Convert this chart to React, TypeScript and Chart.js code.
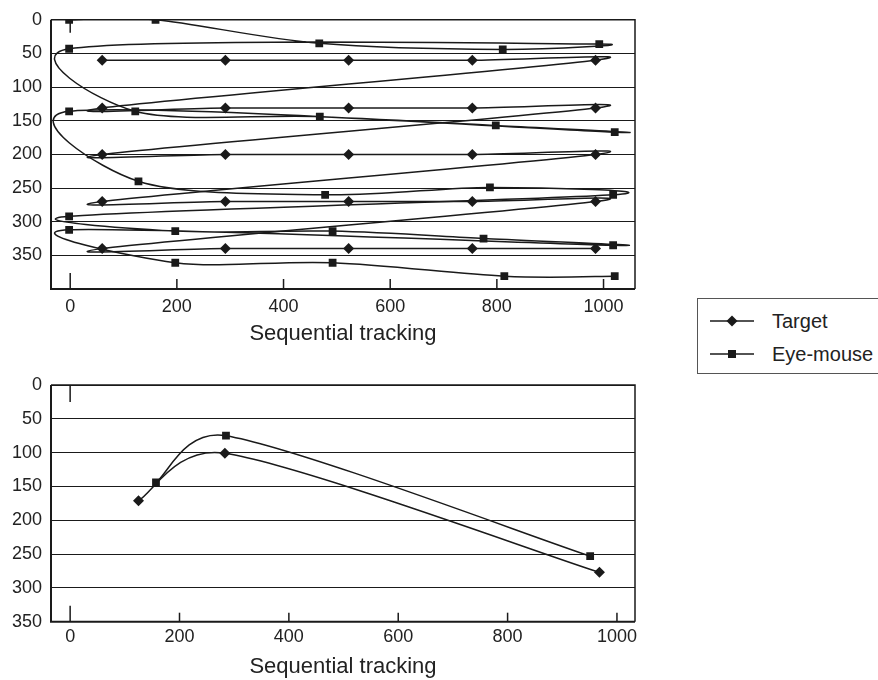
import React, { useEffect, useRef } from 'react';
import { Chart, registerables } from 'chart.js';

Chart.register(...registerables);

const FONT = '"Liberation Sans", Arial, Helvetica, sans-serif';
const INK = '#1a1a1a';

// ---------- Top panel (sequential tracking, 5 rows) ----------
const topTargetX = [60, 291, 522, 754, 985, 60, 291, 522, 754, 985, 60, 291, 522, 754, 985, 60, 291, 522, 754, 985, 60, 291, 522, 754, 985];
const topTargetY = [60, 60, 60, 60, 60, 131, 131, 131, 131, 131, 200, 200, 200, 200, 200, 270, 270, 270, 270, 270, 340, 340, 340, 340, 340];

const topEyeX = [-2, 160, 467, 811, 992, -2, 122, 468, 798, 1021, -2, 128, 478, 787, 1018, -2, 197, 492, 775, 1018, -2, 197, 492, 814, 1021];
const topEyeY = [0, 0, 35, 44, 36, 43, 136, 144, 157, 167, 136, 240, 260, 249, 260, 292, 314, 314, 325, 335, 312, 361, 361, 381, 381];

// ---------- Bottom panel ----------
const botTargetX = [125, 283, 968];
const botTargetY = [171, 101, 277];
const botEyeX = [157, 285, 951];
const botEyeY = [144, 75, 253];

const X_TITLE = 'Sequential tracking';
const LEGEND_LABELS = ['Target', 'Eye-mouse'];

const toPoints = (xs: number[], ys: number[]) => xs.map((x, i) => ({ x, y: ys[i] }));

// Spreadsheet-style smoothing of the line between the library's own point elements
const SMOOTH = 1 / 6;
const smoothPlugin = {
  id: 'spreadsheetSmooth',
  beforeDatasetDraw(chart: any, args: any) {
    const meta = chart.getDatasetMeta(args.index);
    const line = meta.dataset;
    if (!line) return;
    line.updateControlPoints(chart.chartArea, 'x');
    const pts = line.points || meta.data;
    const n = pts.length;
    const P = (i: number) => pts[Math.max(0, Math.min(n - 1, i))];
    const dist = (a: any, b: any) => Math.hypot(a.x - b.x, a.y - b.y);
    for (let i = 0; i < n - 1; i++) {
      const p0 = P(i - 1), p1 = P(i), p2 = P(i + 1), p3 = P(i + 2);
      const d12 = dist(p1, p2), d02 = dist(p0, p2), d13 = dist(p1, p3);
      let f1 = SMOOTH, f2 = SMOOTH;
      if (d02 * SMOOTH > d12 / 2) f1 = d02 > 0 ? d12 / d02 / 2 : 0;
      if (d13 * SMOOTH > d12 / 2) f2 = d13 > 0 ? d12 / d13 / 2 : 0;
      p1.cp2x = p1.x + f1 * (p2.x - p0.x);
      p1.cp2y = p1.y + f1 * (p2.y - p0.y);
      p2.cp1x = p2.x - f2 * (p3.x - p1.x);
      p2.cp1y = p2.y - f2 * (p3.y - p1.y);
    }
    if (n) {
      pts[0].cp1x = pts[0].x; pts[0].cp1y = pts[0].y;
      pts[n - 1].cp2x = pts[n - 1].x; pts[n - 1].cp2y = pts[n - 1].y;
    }
    line._path = undefined;
  },
};

function framePlugin(zeroBottomLen: number, tickLen: number, zeroTopLen: number) {
  return {
    id: 'frameTicks',
    afterDraw(chart: any) {
      const { ctx, chartArea: a, scales } = chart;
      const x = scales.x;
      ctx.save();
      ctx.strokeStyle = INK;
      ctx.lineWidth = 1.5;
      ctx.beginPath();
      ctx.moveTo(a.left, a.top);
      ctx.lineTo(a.right, a.top);
      ctx.lineTo(a.right, a.bottom);
      ctx.stroke();
      ctx.lineWidth = 2;
      ctx.beginPath();
      ctx.moveTo(a.left, a.top);
      ctx.lineTo(a.left, a.bottom);
      ctx.lineTo(a.right, a.bottom);
      ctx.stroke();
      ctx.lineWidth = 1.5;
      for (const t of x.ticks) {
        const px = x.getPixelForValue(t.value);
        const len = t.value === 0 ? zeroBottomLen : tickLen;
        ctx.beginPath();
        ctx.moveTo(px, a.bottom);
        ctx.lineTo(px, a.bottom - len);
        ctx.stroke();
      }
      const p0 = x.getPixelForValue(0);
      ctx.beginPath();
      ctx.moveTo(p0, a.top);
      ctx.lineTo(p0, a.top + zeroTopLen);
      ctx.stroke();
      ctx.restore();
    },
  };
}

function makeConfig(opts: {
  target: { x: number; y: number }[];
  eye: { x: number; y: number }[];
  xMin: number; xMax: number; yMax: number; hideYMax: boolean;
  padTop: number; padRight: number; xHeight: number;
  labelPad: number; titlePadBottom: number;
  plugin: any;
}) {
  const ds = (label: string, data: any[], style: string, radius: number) => ({
    label,
    data,
    showLine: true,
    borderColor: INK,
    backgroundColor: INK,
    borderWidth: 1.5,
    pointStyle: style,
    pointRadius: radius,
    pointBackgroundColor: INK,
    pointBorderColor: INK,
    pointBorderWidth: 0,
    tension: 0.4,
    fill: false,
  });
  return {
    type: 'scatter',
    data: {
      datasets: [
        ds(LEGEND_LABELS[0], opts.target, 'rectRot', 5.5),
        ds(LEGEND_LABELS[1], opts.eye, 'rect', 5.5),
      ],
    },
    options: {
      animation: false,
      responsive: false,
      events: [],
      layout: { padding: { top: opts.padTop, right: opts.padRight, left: 0, bottom: 0 } },
      elements: { line: { capBezierPoints: false } },
      plugins: { legend: { display: false }, tooltip: { enabled: false } },
      scales: {
        x: {
          type: 'linear',
          min: opts.xMin,
          max: opts.xMax,
          afterFit: (s: any) => { s.height = opts.xHeight; },
          grid: { display: false, drawTicks: false },
          border: { display: false },
          ticks: {
            stepSize: 200,
            includeBounds: false,
            padding: opts.labelPad,
            color: '#222',
            font: { family: FONT, size: 18 },
            maxRotation: 0,
            callback: (v: any) => String(v),
          },
          title: {
            display: true,
            text: X_TITLE,
            color: '#222',
            font: { family: FONT, size: 22 },
            padding: { top: 0, bottom: opts.titlePadBottom },
          },
        },
        y: {
          type: 'linear',
          reverse: true,
          min: 0,
          max: opts.yMax,
          afterFit: (s: any) => { s.width = 51; },
          grid: { color: INK, lineWidth: 1, drawTicks: false },
          border: { display: false },
          ticks: {
            stepSize: 50,
            padding: 9,
            color: '#222',
            font: { family: FONT, size: 18 },
            callback: (v: any) => (opts.hideYMax && v === opts.yMax ? '' : String(v)),
          },
        },
      },
    },
    plugins: [smoothPlugin, opts.plugin],
  } as any;
}

function LegendIcon({ kind }: { kind: 'diamond' | 'square' }) {
  return (
    <svg width={44} height={14} style={{ position: 'absolute', left: 12, top: -7 }}>
      <line x1={0} y1={7} x2={44} y2={7} stroke={INK} strokeWidth={1.5} />
      {kind === 'diamond' ? (
        <polygon points="16.5,7 22,1.5 27.5,7 22,12.5" fill={INK} />
      ) : (
        <rect x={18} y={3} width={8} height={8} fill={INK} />
      )}
    </svg>
  );
}

export default function App() {
  const topRef = useRef<HTMLCanvasElement>(null);
  const botRef = useRef<HTMLCanvasElement>(null);

  useEffect(() => {
    const top = new Chart(
      topRef.current!,
      makeConfig({
        target: toPoints(topTargetX, topTargetY),
        eye: toPoints(topEyeX, topEyeY),
        xMin: -36, xMax: 1059, yMax: 400, hideYMax: true,
        padTop: 17, padRight: 25, xHeight: 71,
        labelPad: 7, titlePadBottom: 13,
        plugin: framePlugin(16, 10, 13),
      })
    );
    const bot = new Chart(
      botRef.current!,
      makeConfig({
        target: toPoints(botTargetX, botTargetY),
        eye: toPoints(botEyeX, botEyeY),
        xMin: -35, xMax: 1033, yMax: 350, hideYMax: false,
        padTop: 25, padRight: 25, xHeight: 58.3,
        labelPad: 5, titlePadBottom: 0,
        plugin: framePlugin(16, 9, 17),
      })
    );
    return () => {
      top.destroy();
      bot.destroy();
    };
  }, []);

  return (
    <div style={{ position: 'fixed', left: 0, top: 0, width: 878, height: 680, overflow: 'hidden', background: '#fff' }}>
      <canvas ref={topRef} width={660} height={360} style={{ position: 'absolute', left: 0, top: 0, display: 'block' }} />
      <canvas ref={botRef} width={660} height={320} style={{ position: 'absolute', left: 0, top: 360, display: 'block' }} />
      <div
        style={{
          position: 'absolute', left: 697, top: 298, width: 200, height: 76,
          border: '1px solid #555', boxSizing: 'border-box', background: '#fff',
          fontFamily: FONT, fontSize: 20, color: '#222',
        }}
      >
        <div style={{ position: 'absolute', left: 0, top: 22 }}>
          <LegendIcon kind="diamond" />
        </div>
        <div style={{ position: 'absolute', left: 74, top: 10, lineHeight: '24px', whiteSpace: 'nowrap' }}>{LEGEND_LABELS[0]}</div>
        <div style={{ position: 'absolute', left: 0, top: 55 }}>
          <LegendIcon kind="square" />
        </div>
        <div style={{ position: 'absolute', left: 74, top: 43, lineHeight: '24px', whiteSpace: 'nowrap' }}>{LEGEND_LABELS[1]}</div>
      </div>
    </div>
  );
}
